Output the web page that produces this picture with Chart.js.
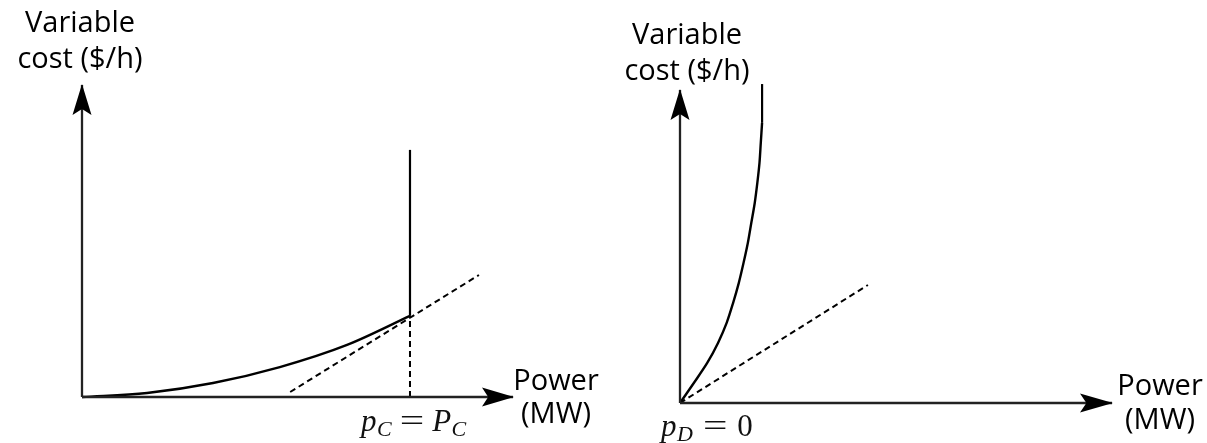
<!DOCTYPE html>
<html><head><meta charset="utf-8">
<script src="https://cdn.jsdelivr.net/npm/chart.js@4.4.1/dist/chart.umd.min.js"></script>
<style>
html,body{margin:0;padding:0;background:#fff;width:1207px;height:443px;overflow:hidden}
#wrap{position:relative;width:1207px;height:443px}
canvas{position:absolute;top:0}
#cL{left:0}
#cR{left:603px}
</style></head><body>
<div id="wrap"><canvas id="cL" width="603" height="443"></canvas><canvas id="cR" width="604" height="443"></canvas></div>
<script>
// ---------- data (axis units 0..10) ----------
const axisMin = 0;
const axisMax = 10;

// Left panel: convex cost curve up to capacity P_C
const leftCurveX = [0, 1.51, 3.04, 4.59, 6.15, 7.61];
const leftCurveY = [0, 0.13, 0.45, 0.96, 1.67, 2.60];
const leftCapX = [7.61, 7.61];
const leftCapY = [2.60, 7.92];
const leftDropX = [7.61, 7.61];
const leftDropY = [0, 2.60];
const leftTangentX = [4.83, 9.21];
const leftTangentY = [0.16, 3.91];

// Right panel: steep cost curve from p_D = 0
const rightCurveX = [0, 0.32, 0.63, 0.88, 1.08, 1.23, 1.36, 1.47, 1.57, 1.65, 1.73, 1.79, 1.84, 1.87, 1.90];
const rightCurveY = [0, 0.64, 1.28, 1.92, 2.56, 3.20, 3.83, 4.47, 5.11, 5.75, 6.39, 7.03, 7.67, 8.31, 8.95];
const rightCapX = [1.90, 1.90];
const rightCapY = [8.95, 10.19];
const rightTangentX = [0, 4.35];
const rightTangentY = [0, 3.77];

// Text
const yAxisTitle = ['Variable', 'cost ($/h)'];
const xAxisTitle = ['Power', '(MW)'];
const leftPointLabel = [['p', 'C'], '=', ['P', 'C']];
const rightPointLabel = [['p', 'D'], '=', '0'];

// ---------- helpers ----------
const pts = (xs, ys) => xs.map((x, i) => ({x: x, y: ys[i]}));

function curve(xs, ys, mode) {
  const d = {data: pts(xs, ys), showLine: true, borderColor: '#000', borderWidth: 2.4,
          pointRadius: 0, fill: false, clip: false};
  if (mode === 'monotone') d.cubicInterpolationMode = 'monotone'; else d.tension = 0.3;
  return d;
}
function solid(xs, ys) {
  return {data: pts(xs, ys), showLine: true, borderColor: '#000', borderWidth: 2.2,
          pointRadius: 0, tension: 0, fill: false, clip: false};
}
function dashed(xs, ys) {
  return {data: pts(xs, ys), showLine: true, borderColor: '#000', borderWidth: 2,
          borderDash: [6, 4], pointRadius: 0, tension: 0, fill: false, clip: false};
}
function axisLine(xs, ys) {
  return {data: pts(xs, ys), showLine: true, borderColor: '#222', borderWidth: 2.3,
          pointRadius: 0, tension: 0, fill: false, clip: false};
}

function arrowHead(ctx, x, y, ang, L, W) {
  ctx.save();
  ctx.translate(x, y);
  ctx.rotate(ang);
  ctx.fillStyle = '#000';
  ctx.beginPath();
  ctx.moveTo(1, 0);
  ctx.lineTo(-L, -W);
  ctx.lineTo(-L * 0.8, 0);
  ctx.lineTo(-L, W);
  ctx.closePath();
  ctx.fill();
  ctx.restore();
}

const decor = {
  id: 'decor',
  afterDatasetsDraw(chart, args, o) {
    const ctx = chart.ctx;
    const sx = chart.scales.x, sy = chart.scales.y;
    const ox = sx.getPixelForValue(axisMin), oy = sy.getPixelForValue(axisMin);
    const tx = sx.getPixelForValue(axisMax), ty = sy.getPixelForValue(axisMax);
    arrowHead(ctx, tx, oy, 0, o.arrowX, 9.5);
    arrowHead(ctx, ox, ty, -Math.PI / 2, 30, 9.5);

    ctx.save();
    ctx.fillStyle = '#000';
    ctx.textAlign = 'center';
    ctx.textBaseline = 'alphabetic';
    ctx.font = '29px "Open Sans", "Noto Sans", sans-serif';
    yAxisTitle.forEach((t, i) => ctx.fillText(t, o.yTitle.x, o.yTitle.y[i]));
    xAxisTitle.forEach((t, i) => ctx.fillText(t, o.xTitle.x, o.xTitle.y[i]));

    // math label
    ctx.textAlign = 'left';
    const m = o.math;
    let x = m.x;
    const mainIt = 'italic 31px "Liberation Serif", serif';
    const subIt = 'italic 22px "Liberation Serif", serif';
    const up = '31px "Liberation Serif", serif';
    ctx.fillStyle = '#111';
    m.parts.forEach((p) => {
      if (Array.isArray(p)) {
        ctx.font = mainIt; ctx.fillText(p[0], x, m.y); x += ctx.measureText(p[0]).width + 0.5;
        ctx.font = subIt; ctx.fillText(p[1], x, m.y + 5); x += ctx.measureText(p[1]).width;
      } else if (p === '=') {
        x += m.gap;
        ctx.font = up;
        const w = ctx.measureText('=').width;
        ctx.save(); ctx.translate(x, m.y); ctx.scale(1.4, 1); ctx.fillText('=', 0, 0); ctx.restore();
        x += w * 1.4 + m.gap;
      } else {
        ctx.font = up; ctx.fillText(p, x, m.y); x += ctx.measureText(p).width;
      }
    });
    ctx.restore();
  }
};

function baseOptions(pad, decorOpts) {
  return {
    responsive: false,
    animation: false,
    events: [],
    layout: {padding: pad},
    plugins: {legend: {display: false}, tooltip: {enabled: false}, decor: decorOpts},
    scales: {
      x: {type: 'linear', min: axisMin, max: axisMax, display: false},
      y: {type: 'linear', min: axisMin, max: axisMax, display: false}
    }
  };
}

function build() {
  new Chart(document.getElementById('cL'), {
    type: 'scatter',
    data: {datasets: [
      axisLine([axisMin, axisMax], [0, 0]),
      axisLine([0, 0], [axisMin, axisMax]),
      curve(leftCurveX, leftCurveY, 'monotone'),
      solid(leftCapX, leftCapY),
      dashed(leftDropX, leftDropY),
      dashed(leftTangentX, leftTangentY)
    ]},
    options: baseOptions({left: 82, right: 90, top: 85, bottom: 46}, {
      arrowX: 31,
      yTitle: {x: 80, y: [32, 68]},
      xTitle: {x: 556, y: [390, 423]},
      math: {x: 361, y: 431, gap: 8, parts: leftPointLabel}
    }),
    plugins: [decor]
  });

  new Chart(document.getElementById('cR'), {
    type: 'scatter',
    data: {datasets: [
      axisLine([axisMin, axisMax], [0, 0]),
      axisLine([0, 0], [axisMin, axisMax]),
      curve(rightCurveX, rightCurveY, 'bezier'),
      solid(rightCapX, rightCapY),
      dashed(rightTangentX, rightTangentY)
    ]},
    options: baseOptions({left: 77, right: 95, top: 90, bottom: 40}, {
      arrowX: 32,
      yTitle: {x: 84, y: [44, 80]},
      xTitle: {x: 557, y: [395, 429]},
      math: {x: 58, y: 436, gap: 10, parts: rightPointLabel}
    }),
    plugins: [decor]
  });
}

if (document.fonts && document.fonts.load) {
  Promise.all([
    document.fonts.load('29px "Open Sans"'),
    document.fonts.load('italic 31px "Liberation Serif"'),
    document.fonts.load('31px "Liberation Serif"')
  ]).then(build, build);
} else {
  build();
}
</script>
</body></html>
